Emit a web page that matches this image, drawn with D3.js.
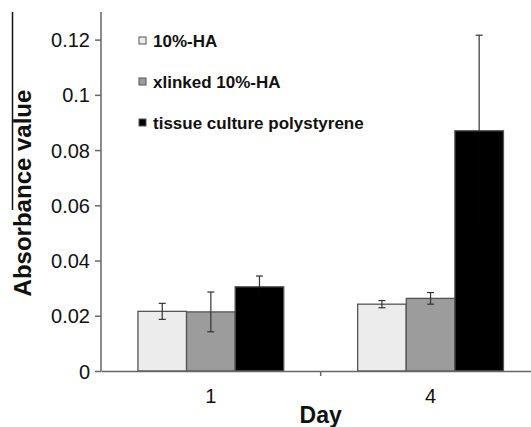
<!DOCTYPE html>
<html>
<head>
<meta charset="utf-8">
<script src="https://cdn.jsdelivr.net/npm/d3@7"></script>
<style>
  body { margin: 0; background: #fff; }
  text { font-family: "Liberation Sans", Arial, sans-serif; }
</style>
</head>
<body>
<svg id="chart" width="531" height="427"></svg>
<script>
var days = ['1', '4'];
var seriesNames = ['10%-HA', 'xlinked 10%-HA', 'tissue culture polystyrene'];
var seriesColors = ['#ececec', '#9c9c9c', '#000000'];
var means = [
  [0.0216, 0.0242],
  [0.0214, 0.0263],
  [0.0305, 0.0870]
];
var errors = [
  [0.0029, 0.0013],
  [0.0072, 0.0021],
  [0.0039, 0.0346]
];
var yTicks = [0, 0.02, 0.04, 0.06, 0.08, 0.1, 0.12];

var margin = { top: 12, left: 101 };
var width = 439.4;
var height = 359;

var svg = d3.select('#chart');
var g = svg.append('g')
  .attr('transform', 'translate(' + margin.left + ',' + margin.top + ')');

var x0 = d3.scaleBand().domain(days).range([0, width]).padding(0);
var x1 = d3.scaleBand().domain(d3.range(seriesNames.length))
  .range([0, x0.bandwidth()]).paddingInner(0).paddingOuter(0.76);
var y = d3.scaleLinear().domain([0, 0.13]).range([height, 0]);

var rows = [];
days.forEach(function (d, i) {
  seriesNames.forEach(function (s, j) {
    rows.push({ day: d, s: j, v: means[j][i], e: errors[j][i] });
  });
});

// bars
g.selectAll('rect.bar').data(rows).enter().append('rect')
  .attr('class', 'bar')
  .attr('x', function (d) { return x0(d.day) + x1(d.s); })
  .attr('y', function (d) { return y(d.v); })
  .attr('width', x1.bandwidth())
  .attr('height', function (d) { return y(0) - y(d.v); })
  .attr('fill', function (d) { return seriesColors[d.s]; })
  .attr('stroke', '#555')
  .attr('stroke-width', 1.3);

// error bars
var capW = 3.5;
function cx(d) { return x0(d.day) + x1(d.s) + x1.bandwidth() / 2; }
var eb = g.selectAll('g.err').data(rows).enter().append('g').attr('class', 'err')
  .attr('stroke', '#333').attr('stroke-width', 1.2);
eb.append('line')
  .attr('x1', cx).attr('x2', cx)
  .attr('y1', function (d) { return y(d.v + d.e); })
  .attr('y2', function (d) { return y(d.v - d.e); })
  .attr('stroke', function (d) { return d.s === 2 ? null : '#333'; });
eb.append('line')
  .attr('x1', function (d) { return cx(d) - capW; })
  .attr('x2', function (d) { return cx(d) + capW; })
  .attr('y1', function (d) { return y(d.v + d.e); })
  .attr('y2', function (d) { return y(d.v + d.e); });
eb.append('line')
  .attr('x1', function (d) { return cx(d) - capW; })
  .attr('x2', function (d) { return cx(d) + capW; })
  .attr('y1', function (d) { return y(d.v - d.e); })
  .attr('y2', function (d) { return y(d.v - d.e); })
  .attr('stroke', function (d) { return d.s === 2 ? '#000' : '#333'; });
// the lower half inside the black bars is not visible
eb.filter(function (d) { return d.s === 2; }).append('line')
  .attr('x1', cx).attr('x2', cx)
  .attr('y1', function (d) { return y(d.v) + 1; })
  .attr('y2', function (d) { return y(d.v - d.e) + 1; })
  .attr('stroke', '#000').attr('stroke-width', 2);

// y axis
var yAxis = g.append('g')
  .call(d3.axisLeft(y).tickValues(yTicks).tickSize(6).tickPadding(5)
    .tickFormat(function (d) { return d === 0 ? '0' : String(d); }));
yAxis.select('.domain').attr('stroke', '#666').attr('stroke-width', 1.5)
  .attr('d', 'M0,' + height + 'V0');
yAxis.selectAll('.tick line').attr('stroke', '#666').attr('stroke-width', 1.5);
yAxis.selectAll('.tick text').attr('fill', '#111')
  .style('font-size', '20px').attr('dy', '0.35em');

// x axis
var xAxis = g.append('g')
  .attr('transform', 'translate(0,' + height + ')')
  .call(d3.axisBottom(x0).tickSize(0).tickPadding(18));
xAxis.select('.domain').attr('stroke', '#666').attr('stroke-width', 1.5);
xAxis.selectAll('.tick text').attr('fill', '#111').style('font-size', '20px');
g.append('line')
  .attr('x1', x0('4')).attr('x2', x0('4'))
  .attr('y1', height).attr('y2', height + 5)
  .attr('stroke', '#666').attr('stroke-width', 1.5);

// axis titles
svg.append('text')
  .attr('transform', 'translate(31,193) rotate(-90)')
  .attr('text-anchor', 'middle')
  .style('font-size', '24px').style('font-weight', 'bold')
  .attr('fill', '#111')
  .text('Absorbance value');
svg.append('line')
  .attr('x1', 12.5).attr('x2', 12.5).attr('y1', 12).attr('y2', 210)
  .attr('stroke', '#111').attr('stroke-width', 1.5);
svg.append('text')
  .attr('x', margin.left + x0('4')).attr('y', 423)
  .attr('text-anchor', 'middle')
  .style('font-size', '23px').style('font-weight', 'bold')
  .attr('fill', '#111')
  .text('Day');

// legend
var legend = svg.append('g').attr('transform', 'translate(139,37)');
var li = legend.selectAll('g').data(seriesNames).enter().append('g')
  .attr('transform', function (d, i) { return 'translate(0,' + (i * 41) + ')'; });
li.append('rect')
  .attr('width', 7).attr('height', 7)
  .attr('fill', function (d, i) { return seriesColors[i]; })
  .attr('stroke', '#555').attr('stroke-width', 1);
li.append('text')
  .attr('x', 14).attr('y', 9.5)
  .style('font-size', '17px').style('font-weight', 'bold')
  .attr('fill', '#111')
  .text(function (d) { return d; });
</script>
</body>
</html>
